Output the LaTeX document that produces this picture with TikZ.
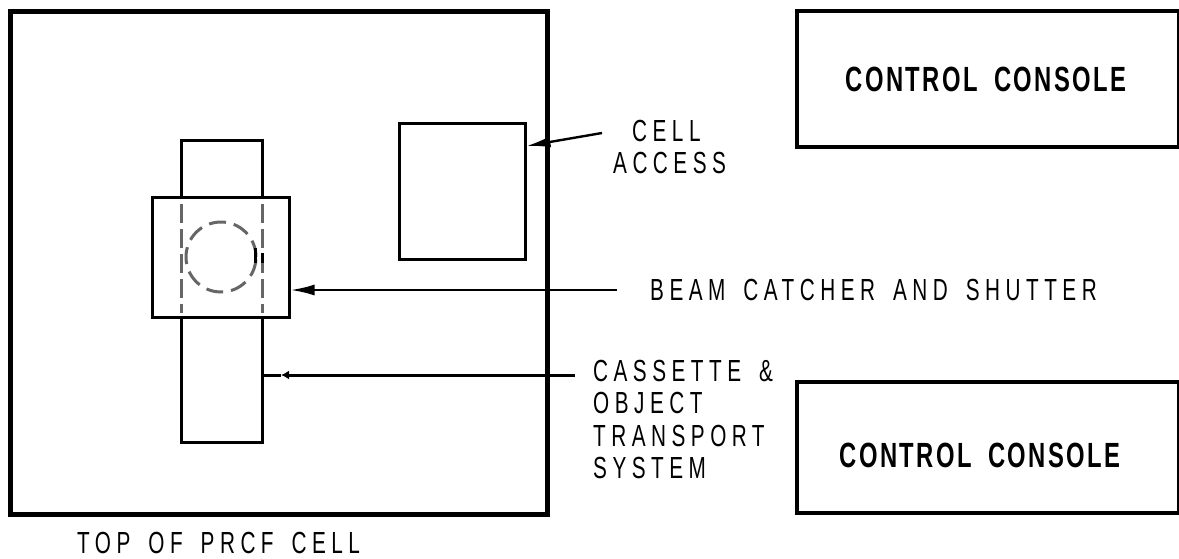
\documentclass[tikz,border=0pt]{standalone}
\usepackage{fontspec}
\newfontfamily\labelfont[FakeStretch=0.68,LetterSpace=18,WordSpace=1.6]{Liberation Sans}
\newfontfamily\consolefont[FakeStretch=0.68,LetterSpace=7,WordSpace=1.8]{Liberation Sans}
\usetikzlibrary{arrows.meta,positioning}
\begin{document}
\begin{tikzpicture}[
  x=1pt, y=-1pt,
  wall/.style={draw, line width=5pt, inner sep=0pt},
  conwall/.style={draw, line width=4pt, inner sep=0pt},
  unit/.style={draw, line width=3pt, inner sep=0pt},
  lbl/.style={align=left, anchor=west, inner sep=0pt, font=\fontsize{30.5}{36}\labelfont},
  consolelbl/.style={inner sep=0pt, font=\fontsize{35}{40}\consolefont\bfseries},
  arrow/.style={-{Latex[length=24pt,width=11pt]}, line width=2.4pt},
  smallarrow/.style={-{Latex[length=8pt,width=9pt]}, line width=3pt},
  hidden/.style={draw=black!60, dash pattern=on 19pt off 6pt, line width=3pt},
  hiddenround/.style={draw=black!60, dash pattern=on 17pt off 8pt, line width=3pt}
]
\useasboundingbox (0,0) rectangle (1179,558);

% cell
\node[wall, minimum width=537pt, minimum height=503pt] (cell) at (278.5,262.5) {};
\node[unit, minimum width=126pt, minimum height=136pt] (access) at (462,191) {};
\node[unit, minimum width=81pt, minimum height=302pt] (transport) at (222,291) {};
\node[unit, fill=white, minimum width=137pt, minimum height=120pt] (catcher) at (220.5,257) {};
\draw[hidden] (181.5,204) -- (181.5,313);
\draw[hidden] (262,204) -- (262,313);
\node[hiddenround, draw, circle, minimum size=70pt, inner sep=0pt] (beam) at (221,257) {};
\draw[line width=3pt] (255,248) -- (255,263);
\draw[line width=3pt] (262,253) -- (262,263);

% consoles
\node[conwall, minimum width=382pt, minimum height=136pt] (top) at (988,79) {};
\node[conwall, minimum width=382pt, minimum height=131pt] (bottom) at (988,447.5) {};
\node[consolelbl] (ttop) at (986,79) {CONTROL CONSOLE};
\node[consolelbl] (tbottom) at (980,455) {CONTROL CONSOLE};

% labels
\node[lbl] (lcell) at (632,131) {CELL};
\node[lbl] (laccess) at (613,163) {ACCESS};
\node[lbl] (lbeam) at (650,290) {BEAM CATCHER AND SHUTTER};
\node[lbl] (lcass) at (593,371) {CASSETTE \&};
\node[lbl] (lobject) at (593,403) {OBJECT};
\node[lbl] (ltrans) at (593,436) {TRANSPORT};
\node[lbl] (lsystem) at (593,468) {SYSTEM};
\node[lbl] (ltopof) at (77,543) {TOP OF PRCF CELL};

\coordinate (acell) at (602,133);
\coordinate (abeam) at (617,290);
\coordinate (atrans) at (575,375);
\coordinate (ahead) at (281,375);
\draw[arrow] (acell) -- (access.east |- 0,146);
\draw[arrow] (abeam) -- (catcher.east |- abeam);
\draw[smallarrow] (atrans) -- (ahead);
\draw[line width=3pt] (ahead) -- (transport.east |- ahead);
\end{tikzpicture}
\end{document}
